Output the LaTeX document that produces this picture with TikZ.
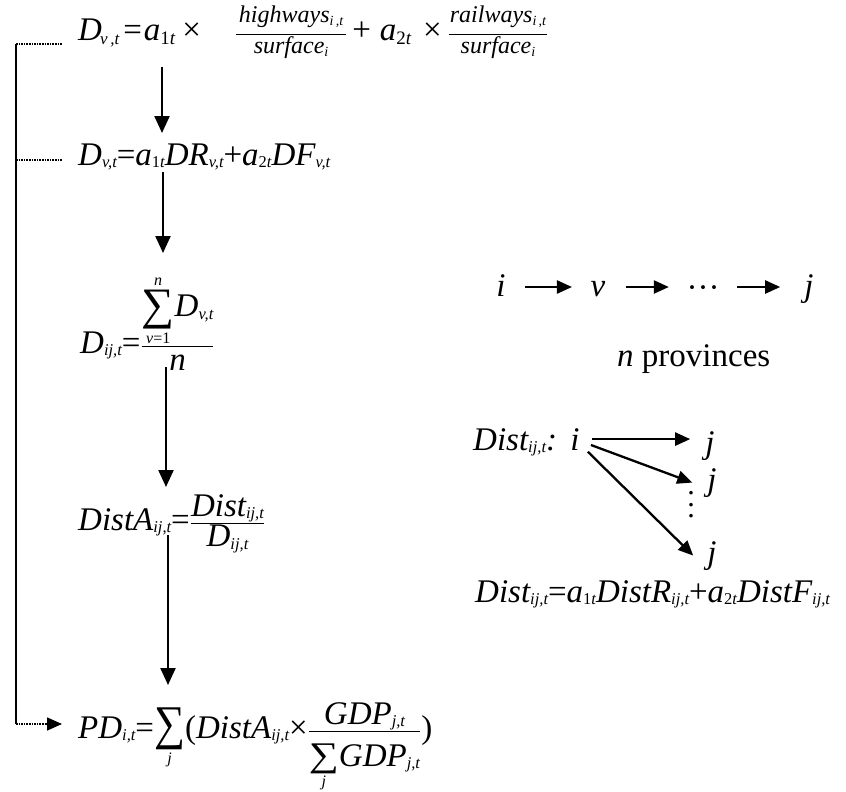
\documentclass[tikz,border=0pt]{standalone}
\usepackage{amsmath}
\usepackage{graphicx}
\usepackage{fontspec}
\setmainfont{Liberation Serif}
\usetikzlibrary{arrows.meta,calc}

\newcommand{\mi}[1]{\text{\itshape #1}}
\newcommand{\mup}[1]{\text{\upshape #1}}
\newcommand{\wsb}[1]{\text{\raisebox{-2.5pt}{\fontsize{16.5}{16.5}\selectfont\itshape #1}}}
\newcommand{\esb}[2]{\text{\raisebox{-4pt}{\fontsize{#1}{#1}\selectfont\itshape #2}}}
\newcommand{\fsub}[1]{\raisebox{-3pt}{\fontsize{14}{14}\selectfont #1}}
\newcommand{\teq}{\mathord{\text{=}}}
\newcommand{\tplus}{\mathord{\text{+}}}
\newcommand{\ttimes}{\mathord{\text{×}}}
\newcommand{\limf}[1]{{\fontsize{16}{16}\selectfont\itshape #1}}
% sum sign of given width, total height and depth
\newcommand{\sg}[3]{\raisebox{-#3}{\resizebox{#1}{#2}{\raisebox{\depth}{\upshape ∑}}}}
% sum with lower limit: width, height, depth, limit, gap
\newcommand{\sumlo}[5]{\mathord{\vtop{\offinterlineskip\halign{\hfil##\hfil\cr\sg{#1}{#2}{#3}\cr\noalign{\kern#5}\limf{#4}\cr}}}}
% sum with upper and lower limits: width, height, depth, upper, lower, gap
\newcommand{\sumul}[6]{\mathord{\vtop{\offinterlineskip\halign{\hfil##\hfil\cr\vbox{\offinterlineskip\halign{\hfil##\hfil\cr\limf{#4}\cr\noalign{\kern#6}\sg{#1}{#2}{#3}\cr}}\cr\noalign{\kern#6}\limf{#5}\cr}}}}
% fraction of the first formula: bar width, numerator, denominator
\newcommand{\fr}[3]{\frac{\text{\fontsize{24}{24}\selectfont\itshape\makebox[#1]{#2}\rule[-10.8pt]{0pt}{10.8pt}}}{\text{\fontsize{24}{24}\selectfont\itshape #3}}}

\tikzset{
  fm/.style={inner sep=0pt, anchor=base west, font=\fontsize{33}{38}\selectfont},
  rt/.style={inner sep=0pt, anchor=base, font=\fontsize{33}{38}\selectfont},
  arr/.style={line width=2.3pt, -{Triangle[length=17pt,width=15pt]}},
  arrs/.style={line width=2.3pt, -{Triangle[length=15pt,width=13pt]}},
  railst/.style={line width=2pt},
  hline/.style={line width=1.6pt, densely dotted},
}

\begin{document}
\begin{tikzpicture}[x=1pt,y=-1pt]
\useasboundingbox (0,0) rectangle (846,792);
\fill[white] (0,0) rectangle (846,792);

% left column formulas
\node[fm] (eq1) at (78,41) {$\mi{D}\hspace{-2pt}\esb{17}{v\,,t}\hspace{4pt}\teq\hspace{2pt}\mi{a}\esb{19}{{\upshape 1}t}\hspace{7pt}\ttimes\hspace{34pt}\fr{110pt}{highways\fsub{i\,,t}}{surface\fsub{i}}\hspace{5pt}\tplus\hspace{9pt}\mi{a}\esb{19}{{\upshape 2}t}\hspace{12pt}\ttimes\hspace{6pt}\fr{98pt}{railways\fsub{i\,,t}}{surface\fsub{i}}$};

\node[fm] (eq2) at (78,165) {$\mi{D}\wsb{v,t}\teq\mi{a}\wsb{{\upshape 1}t}\mi{DR}\wsb{v,t}\tplus\mi{a}\wsb{{\upshape 2}t}\mi{DF}\wsb{v,t}$};

\node[fm] (eq3) at (80,353) {$\displaystyle\mi{D}\wsb{ij,t}\teq\frac{\sumul{33pt}{39pt}{12pt}{n}{v\upshape =1}{4pt}\mi{D}\wsb{v,t}}{\mi{n}}$};

\node[fm] (eq4) at (78,530) {$\mi{DistA}\wsb{ij,t}\teq\frac{\textstyle\mi{Dist}\wsb{ij,t}}{\textstyle\mi{D}\wsb{ij,t}}$};

\node[fm] (eq5) at (78,738) {$\mi{PD}\wsb{i,t}\teq\sumlo{31pt}{42pt}{12pt}{j}{3pt}\mup{(}\mi{DistA}\wsb{ij,t}\ttimes\frac{\textstyle\mi{GDP}\wsb{j,t}}{\textstyle\sumlo{30pt}{30pt}{8pt}{j}{1.5pt}\mi{GDP}\wsb{j,t}\rule{0pt}{33pt}}\mup{)}$};

% columns for the vertical arrows and the rail
\coordinate (c1) at (162,0);
\coordinate (c2) at (163,0);
\coordinate (c3) at (166,0);
\coordinate (c4) at (168,0);
\coordinate (rail) at (16,0);

\draw[arr] ($(eq1.base -| c1)+(0,26)$) -- ($(eq2.base -| c1)+(0,-32)$);
\draw[arr] ($(eq2.base -| c2)+(0,7)$) -- ($(eq3.base -| c2)+(0,-100)$);
\draw[arr] ($(eq3.base -| c3)+(0,14)$) -- ($(eq4.base -| c3)+(0,-43)$);
\draw[arr] ($(eq4.base -| c4)+(0,5)$) -- ($(eq5.base -| c4)+(0,-53)$);

% feedback rail
\draw[railst] ($(eq1.base west -| rail)+(0,3)$) -- ($(eq5.base west -| rail)+(0,-14)$);
\draw[hline] ($(eq1.base west -| rail)+(0,3)$) -- ($(eq1.base west)+(-16,3)$);
\draw[hline] ($(eq2.base west -| rail)+(0,-5)$) -- ($(eq2.base west)+(-16,-5)$);
\draw[hline] ($(eq5.base west -| rail)+(0,-14)$) -- ($(eq5.base west)+(-30,-14)$);
\draw[arrs, line width=1.6pt] ($(eq5.base west)+(-32,-14)$) -- ($(eq5.base west)+(-16,-14)$);

% right: chain of provinces
\node[rt] (ri) at (501,296) {$\mi{i}$};
\node[rt] (rv) at (598,296) {$\mi{v}$};
\node[rt] (rdots) at (703,296) {\raisebox{-2pt}{···}};
\node[rt] (rj) at (809,296) {$\mi{j}$};
\draw[arrs, shorten <=19pt, shorten >=18.5pt] ([yshift=9pt]ri.base east) -- ([yshift=9pt]rv.base west);
\draw[arrs, shorten <=20.5pt, shorten >=17.5pt] ([yshift=9pt]rv.base east) -- ([yshift=9pt]rdots.base west);
\draw[arrs, shorten <=17.5pt, shorten >=24pt] ([yshift=9pt]rdots.base east) -- ([yshift=9pt]rj.base west);
\node[rt, anchor=base west] (prov) at (617,366) {\textit{n} provinces};

% right: distance fan
\node[rt, anchor=base west] (dl) at (473,450) {$\mi{Dist}\wsb{ij,t}\mi{:}$};
\node[rt] (di) at (575,450) {$\mi{i}$};
\node[rt] (dj1) at (710,453) {$\mi{j}$};
\node[rt] (dj2) at (712,490) {$\mi{j}$};
\node[rt] (dj3) at (712,563) {$\mi{j}$};
\node[inner sep=0pt, font=\fontsize{30}{30}\selectfont] (vd) at (691,505) {\vbox{\baselineskip=11.5pt\hbox{.}\hbox{.}\hbox{.}}};
\draw[arrs, shorten <=17pt, shorten >=15pt] (di.center) -- (di.center -| dj1.west);
\draw[arrs, shorten <=17pt] (di.center) -- ([xshift=-15pt]dj2.west);
\draw[arrs, shorten <=18pt] (di.center) -- ([xshift=-14pt]dj3.west);

\node[rt, anchor=base west] (dform) at (475,602) {$\mi{Dist}\wsb{ij,t}\teq\mi{a}\wsb{{\upshape 1}t}\mi{DistR}\wsb{ij,t}\tplus\mi{a}\wsb{{\upshape 2}t}\mi{DistF}\wsb{ij,t}$};
\end{tikzpicture}
\end{document}
